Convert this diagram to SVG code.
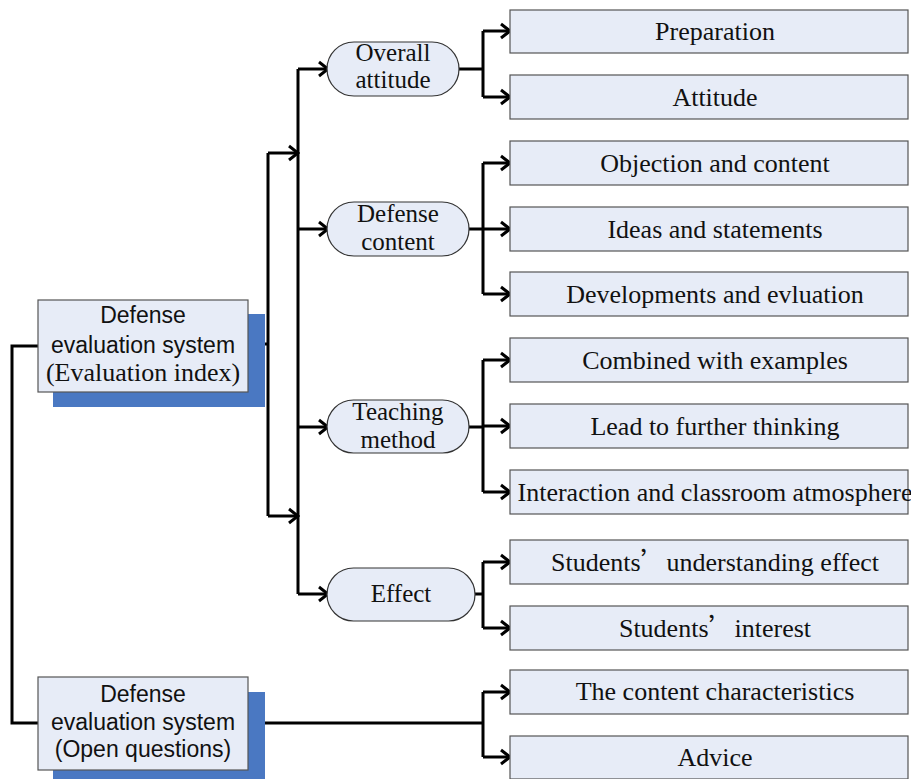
<svg xmlns="http://www.w3.org/2000/svg" width="911" height="779" viewBox="0 0 911 779">
<defs>
<marker id="arr" markerUnits="userSpaceOnUse" markerWidth="14" markerHeight="18" viewBox="0 0 14 18" refX="12" refY="9" orient="auto">
<path d="M3,2 L12,9 L3,16" fill="none" stroke="#000" stroke-width="3"/>
</marker>
</defs>
<style>
.box{fill:#e7ecf7;stroke:#555;stroke-width:1.2}
.shadow{fill:#4a78c2}
.pill{fill:#e7ecf7;stroke:#333;stroke-width:1.2}
.ln{fill:none;stroke:#000;stroke-width:3}
.ar{fill:none;stroke:#000;stroke-width:3;marker-end:url(#arr)}
.sans{font-family:"Liberation Sans",Arial,sans-serif;font-size:23px;fill:#111;text-anchor:middle}
.serif{font-family:"Liberation Serif","Times New Roman",serif;font-size:25px;fill:#111;text-anchor:middle}
.rt{font-size:26px}
.q{font-family:"Noto Sans CJK SC",sans-serif}
</style>
<rect width="911" height="779" fill="#fff"/>

<g id="connectors">
<path class="ln" d="M38,346 H12 V723 H38"/>
<path class="ln" d="M248,344 H268"/>
<path class="ln" d="M268,153 V516"/>
<path class="ar" d="M268,153 H298"/>
<path class="ar" d="M268,516 H298"/>
<path class="ln" d="M298,69 V594"/>
<path class="ar" d="M298,69 H328"/>
<path class="ar" d="M298,229 H328"/>
<path class="ar" d="M298,427 H328"/>
<path class="ar" d="M298,594 H328"/>
<path class="ln" d="M459,69 H483 M483,31 V97"/>
<path class="ar" d="M483,31 H510"/>
<path class="ar" d="M483,97 H510"/>
<path class="ln" d="M469,229 H483 M483,163 V294"/>
<path class="ar" d="M483,163 H510"/>
<path class="ar" d="M483,229 H510"/>
<path class="ar" d="M483,294 H510"/>
<path class="ln" d="M469,427 H483 M483,360 V492"/>
<path class="ar" d="M483,360 H510"/>
<path class="ar" d="M483,426 H510"/>
<path class="ar" d="M483,492 H510"/>
<path class="ln" d="M475,594 H483 M483,562 V628"/>
<path class="ar" d="M483,562 H510"/>
<path class="ar" d="M483,628 H510"/>
<path class="ln" d="M248,723 H483 M483,692 V757"/>
<path class="ar" d="M483,692 H510"/>
<path class="ar" d="M483,757 H510"/>
</g>

<g id="root1">
<rect class="shadow" x="53" y="314" width="212" height="93"/>
<rect class="box" x="38" y="300" width="210" height="92"/>
<text class="sans" x="143" y="323">Defense</text>
<text class="sans" x="143" y="353">evaluation system</text>
<text class="serif rt" x="143" y="381">(Evaluation index)</text>
</g>

<g id="root2">
<rect class="shadow" x="53" y="692" width="212" height="87"/>
<rect class="box" x="38" y="677" width="210" height="93"/>
<text class="sans" x="143" y="702">Defense</text>
<text class="sans" x="143" y="730">evaluation system</text>
<text class="sans" x="143" y="757">(Open questions)</text>
</g>

<g id="overall">
<rect class="pill" x="327" y="42" width="132" height="54" rx="27"/>
<text class="serif" x="393" y="61">Overall</text>
<text class="serif" x="393" y="88">attitude</text>
</g>
<g id="content">
<rect class="pill" x="327" y="202" width="142" height="54" rx="27"/>
<text class="serif" x="398" y="222">Defense</text>
<text class="serif" x="398" y="250">content</text>
</g>
<g id="method">
<rect class="pill" x="327" y="400" width="142" height="53" rx="26.5"/>
<text class="serif" x="398" y="420">Teaching</text>
<text class="serif" x="398" y="448">method</text>
</g>
<g id="effect">
<rect class="pill" x="327" y="568" width="148" height="53" rx="26.5"/>
<text class="serif" x="401" y="602">Effect</text>
</g>

<g id="b1"><rect class="box" x="510" y="10" width="398" height="43"/><text class="serif rt" x="715" y="40">Preparation</text></g>
<g id="b2"><rect class="box" x="510" y="75" width="398" height="44"/><text class="serif rt" x="715" y="106">Attitude</text></g>
<g id="b3"><rect class="box" x="510" y="141" width="398" height="44"/><text class="serif rt" x="715" y="172">Objection and content</text></g>
<g id="b4"><rect class="box" x="510" y="207" width="398" height="44"/><text class="serif rt" x="715" y="238">Ideas and statements</text></g>
<g id="b5"><rect class="box" x="510" y="272" width="398" height="44"/><text class="serif rt" x="715" y="303">Developments and evluation</text></g>
<g id="b6"><rect class="box" x="510" y="338" width="398" height="44"/><text class="serif rt" x="715" y="369">Combined with examples</text></g>
<g id="b7"><rect class="box" x="510" y="404" width="398" height="44"/><text class="serif rt" x="715" y="435">Lead to further thinking</text></g>
<g id="b8"><rect class="box" x="510" y="470" width="398" height="44"/><text class="serif rt" x="715" y="501">Interaction and classroom atmosphere</text></g>
<g id="b9"><rect class="box" x="510" y="540" width="398" height="44"/><text class="serif rt" x="715" y="571">Students<tspan class="q">’</tspan>understanding effect</text></g>
<g id="b10"><rect class="box" x="510" y="606" width="398" height="44"/><text class="serif rt" x="715" y="637">Students<tspan class="q">’</tspan>interest</text></g>
<g id="b11"><rect class="box" x="510" y="670" width="398" height="44"/><text class="serif rt" x="715" y="700">The content characteristics</text></g>
<g id="b12"><rect class="box" x="510" y="736" width="398" height="43"/><text class="serif rt" x="715" y="766">Advice</text></g>
</svg>
